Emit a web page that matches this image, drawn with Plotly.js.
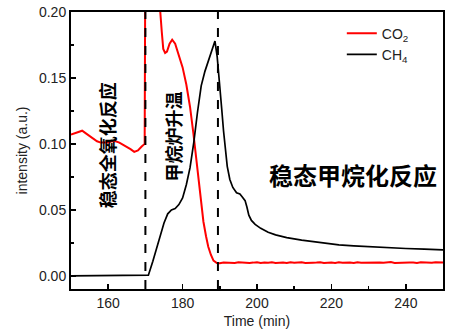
<!DOCTYPE html>
<html>
<head>
<meta charset="utf-8">
<script src="https://cdn.plot.ly/plotly-3.0.1.min.js"></script>
<style>html,body{margin:0;padding:0;background:#fff;}#chart{width:453px;height:335px;}</style>
</head>
<body>
<div id="chart"></div>
<script>
// CO2 (red) readings
const co2Time = [150,151,152,153,154,155,156,157,158,159,160,161,162,163,164,165,166,167,168,169,169.8,
  170.05,172,173.5,174.0,174.4,174.8,175.3,175.8,176.5,177.2,178,179,180,181,181.5,182,182.9,183.8,184.7,185.6,186.3,186.9,187.6,188.3,189.2,
  190,191,192,193,194,195,196,197,198,199,200,201,202,203,204,205,206,207,208,209,210,211,212,213,214,215,216,217,218,219,220,
  221,222,223,224,225,226,227,228,229,230,231,232,233,234,235,236,237,238,239,240,241,242,243,244,245,246,247,248,249,250];
const co2Value = [0.107,0.108,0.109,0.110,0.108,0.106,0.104,0.102,0.101,0.101,0.101,0.102,0.102,0.101,0.0995,0.098,0.096,0.094,0.095,0.098,0.100,
  0.30,0.30,0.24,0.200,0.185,0.172,0.169,0.170,0.176,0.179,0.176,0.167,0.158,0.145,0.136,0.128,0.108,0.085,0.060,0.041,0.030,0.022,0.016,0.0115,0.0097,
  0.0096,0.0101,0.0098,0.0100,0.0097,0.0102,0.0099,0.0101,0.0098,0.0100,0.0103,0.0097,0.0101,0.0099,0.0102,0.0098,0.0100,0.0101,0.0097,0.0102,0.0099,
  0.0100,0.0103,0.0098,0.0101,0.0099,0.0100,0.0102,0.0097,0.0101,0.0100,0.0098,0.0102,0.0099,0.0101,0.0100,0.0097,0.0103,0.0099,0.0100,0.0101,0.0098,
  0.0102,0.0100,0.0099,0.0101,0.0104,0.0098,0.0100,0.0102,0.0099,0.0101,0.0100,0.0098,0.0102,0.0100,0.0101,0.0099,0.0103,0.0100,0.0101,0.0100,0.0102];

// CH4 (black) readings
const ch4Time = [150,155,160,165,170,170.8,172,173,174,175,176,177,178,179,180,181,182,183,184,185,186,187,188,188.7,189.3,190,190.5,191,191.5,192,192.7,193.5,194.5,195.4,196,196.8,197.3,197.8,198.5,199.5,201,203,205,208,212,217,222,226,230,235,240,245,250];
const ch4Value = [0.0,0.0,0.0,0.0,0.0,0.0005,0.011,0.021,0.031,0.040,0.047,0.050,0.051,0.054,0.059,0.069,0.082,0.101,0.124,0.144,0.155,0.164,0.172,0.178,0.166,0.146,0.127,0.110,0.095,0.083,0.073,0.067,0.063,0.062,0.060,0.057,0.052,0.046,0.042,0.039,0.036,0.033,0.031,0.029,0.027,0.025,0.0235,0.0227,0.022,0.0214,0.0207,0.0202,0.0197];

const seriesNames = ['CO<sub>2</sub>', 'CH<sub>4</sub>'];
const phaseBounds = [170, 189.5];
const phaseLabels = ['稳态全氧化反应', '甲烷炉升温', '稳态甲烷化反应'];
const xTickVals = [160, 180, 200, 220, 240];
const yTickVals = [0.00, 0.05, 0.10, 0.15, 0.20];

const traces = [
  {x: co2Time, y: co2Value, name: seriesNames[0], type: 'scatter', mode: 'lines',
   line: {color: '#ff0000', width: 2}},
  {x: ch4Time, y: ch4Value, name: seriesNames[1], type: 'scatter', mode: 'lines',
   line: {color: '#000000', width: 1.7}}
];

const cjk = '"Noto Sans CJK SC", sans-serif';
const layout = {
  width: 453, height: 335,
  margin: {l: 71, r: 10, t: 12, b: 46},
  paper_bgcolor: '#fff', plot_bgcolor: '#fff',
  font: {family: '"Liberation Sans", Arial, sans-serif', size: 14, color: '#222'},
  showlegend: true,
  legend: {x: 0.728, y: 0.98, xanchor: 'left', yanchor: 'top', bgcolor: 'rgba(0,0,0,0)',
           font: {size: 14, color: '#222'}, tracegroupgap: 0},
  xaxis: {
    range: [150, 250], tickvals: xTickVals, ticktext: xTickVals.map(String),
    ticks: 'inside', ticklen: 5, tickwidth: 1.5, tickcolor: '#000',
    minor: {dtick: 10, tick0: 150, ticks: 'inside', ticklen: 3, tickwidth: 1.5, tickcolor: '#000'},
    showline: true, linecolor: '#000', linewidth: 2, mirror: true,
    showgrid: false, zeroline: false,
    title: {text: 'Time (min)', font: {size: 14}, standoff: 6}
  },
  yaxis: {
    range: [-0.01, 0.2], tickvals: yTickVals, ticktext: yTickVals.map(v => v.toFixed(2)),
    ticks: 'inside', ticklen: 5, tickwidth: 1.5, tickcolor: '#000',
    minor: {dtick: 0.025, tick0: 0, ticks: 'inside', ticklen: 3, tickwidth: 1.5, tickcolor: '#000'},
    showline: true, linecolor: '#000', linewidth: 2, mirror: true,
    showgrid: false, zeroline: false,
    title: {text: 'intensity (a.u.)', font: {size: 14}, standoff: 8}
  },
  shapes: phaseBounds.map(b => ({
    type: 'line', xref: 'x', yref: 'paper', x0: b, x1: b, y0: 0, y1: 1,
    line: {color: '#000', width: 2, dash: 'dash'}
  })),
  annotations: [
    {x: 159.9, y: 0.0988, xref: 'x', yref: 'y', text: '<b>' + phaseLabels[0] + '</b>', showarrow: false,
     textangle: -90, font: {family: cjk, size: 18, color: '#000'}},
    {x: 177.4, y: 0.1056, xref: 'x', yref: 'y', text: '<b>' + phaseLabels[1] + '</b>', showarrow: false,
     textangle: -90, font: {family: cjk, size: 18, color: '#000'}},
    {x: 225.8, y: 0.0769, xref: 'x', yref: 'y', text: '<b>' + phaseLabels[2] + '</b>', showarrow: false,
     font: {family: cjk, size: 24, color: '#000'}}
  ]
};

Plotly.newPlot('chart', traces, layout, {staticPlot: true, displayModeBar: false});
</script>
</body>
</html>
